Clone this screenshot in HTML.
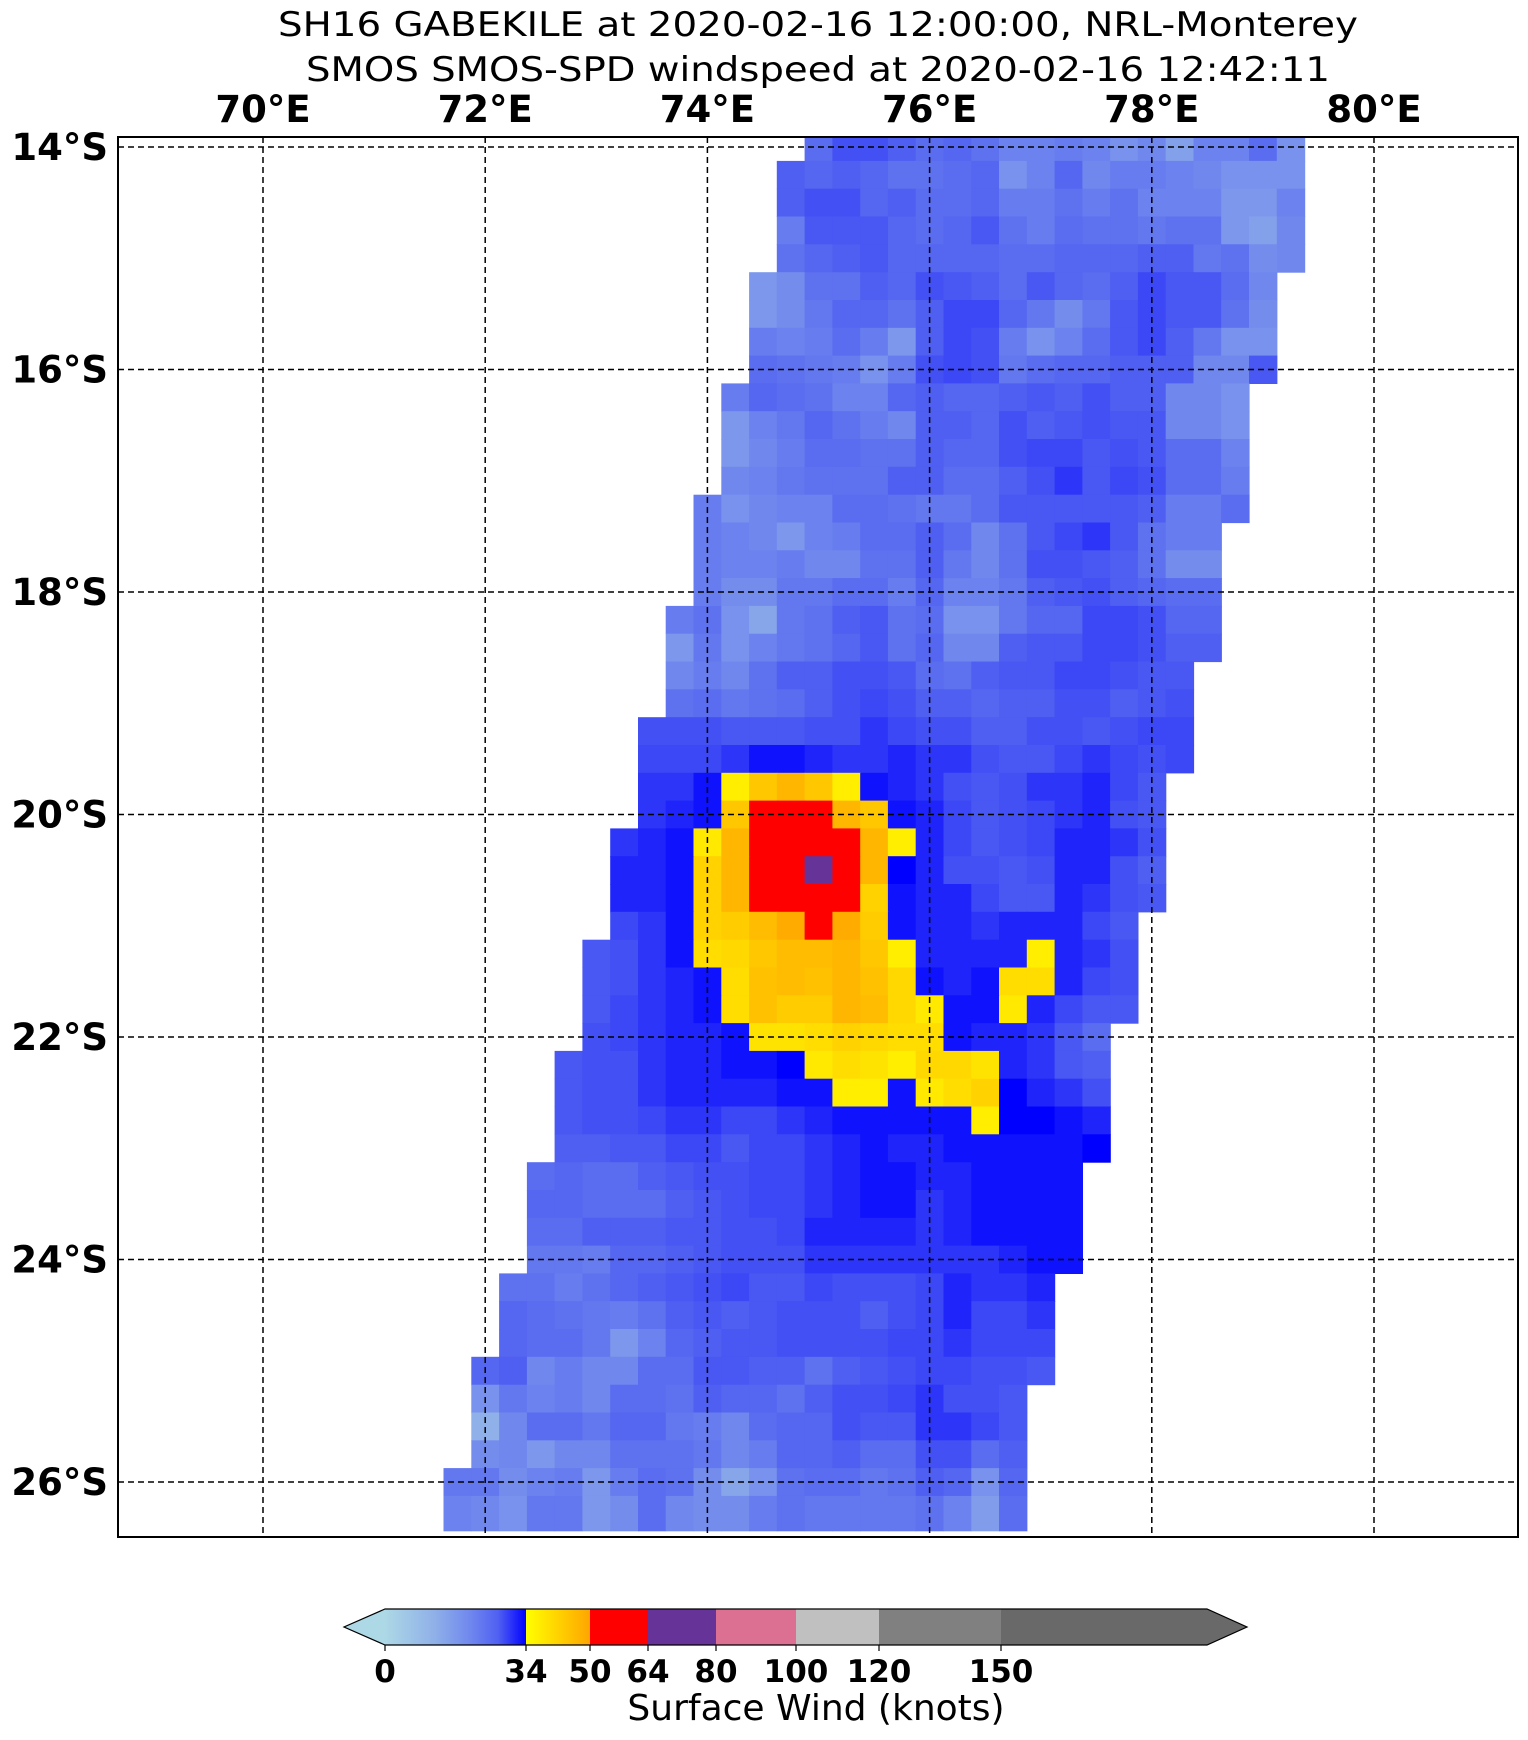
<!DOCTYPE html>
<html><head><meta charset="utf-8"><style>
html,body{margin:0;padding:0;background:#fff;}
svg{display:block;font-family:"DejaVu Sans","Liberation Sans",sans-serif;}
</style></head><body>
<svg id="chart" width="1528" height="1740" viewBox="0 0 1528 1740" xmlns="http://www.w3.org/2000/svg">
<text x="818" y="36" font-size="34" text-anchor="middle" textLength="1080" lengthAdjust="spacingAndGlyphs">SH16 GABEKILE at 2020-02-16 12:00:00, NRL-Monterey</text>
<text x="818" y="81" font-size="34" text-anchor="middle" textLength="1024" lengthAdjust="spacingAndGlyphs">SMOS SMOS-SPD windspeed at 2020-02-16 12:42:11</text>
<g id="cells"></g>
<g id="grid"></g>
<rect x="118" y="137" width="1400" height="1400" fill="none" stroke="#000" stroke-width="2"/>
<g id="labels"></g>
<g id="cbar"></g>
<text x="816" y="1720" font-size="36" text-anchor="middle">Surface Wind (knots)</text>
</svg>
<script>
// grid: column centers lon = 71.75 + 0.25*i, row centers lat(S) = 14.0 + 0.25*r
const lonTicks = [70,72,74,76,78,80];
const latTicks = [14,16,18,20,22,24,26];
const cbarBounds = [0,34,50,64,80,100,120,150];
const rowStartCol = [13,12,12,12,12,11,11,11,11,10,10,10,10,9,9,9,9,8,8,8,8,7,7,7,7,6,6,6,6,5,5,5,5,4,4,4,4,3,3,3,3,2,2,2,1,1,1,1,0,0];
const windRows = [
[25,29,29,27,25,26,24,21,21,22,21,18,20,15,21,21,25,18],
[27,26,27,26,24,24,25,26,18,21,26,20,22,22,21,20,18,18,18],
[27,29,29,26,27,25,25,26,22,22,24,22,24,21,21,21,17,17,21],
[22,28,28,28,26,25,26,28,24,22,25,24,24,23,24,24,17,15,20],
[24,26,27,28,26,26,26,26,25,25,26,26,26,27,27,23,24,19,20],
[17,19,24,24,27,26,29,28,27,25,28,26,25,27,30,28,28,25,20],
[17,19,23,26,26,24,27,30,30,26,23,19,23,28,30,28,28,24,19],
[22,21,22,25,22,17,27,30,29,22,18,21,25,28,30,27,23,18,18],
[25,24,23,22,18,22,29,30,29,23,25,26,26,27,27,27,20,20,28],
[22,26,25,24,21,21,26,27,26,26,27,28,27,29,27,27,20,20,18],
[17,21,23,26,24,22,20,27,27,26,29,27,28,29,28,28,20,20,18],
[17,20,22,25,25,24,24,27,26,26,29,30,30,28,29,28,25,25,21],
[20,21,23,24,24,24,27,27,25,25,27,29,31,28,30,29,25,25,22],
[22,18,20,21,21,25,25,24,23,23,25,28,28,28,28,28,27,22,22,25],
[22,21,20,17,21,22,25,25,27,25,20,24,28,30,31,28,24,22,22],
[22,21,21,22,20,20,24,24,27,23,20,24,29,29,28,27,24,19,19],
[22,19,19,23,23,25,25,22,26,21,21,23,27,28,29,27,26,25,25],
[22,24,18,14,23,24,27,28,24,25,18,18,23,26,26,30,30,29,26,26],
[17,23,18,21,23,24,26,28,24,26,20,20,27,28,28,30,30,29,27,27],
[20,22,20,24,27,27,29,29,28,25,24,27,28,28,30,30,29,28,28],
[24,25,23,24,25,27,29,30,29,27,27,26,27,27,29,29,27,28,29],
[29,29,29,28,28,28,29,29,31,30,29,29,27,27,29,29,28,29,30,30],
[30,30,30,31,33,33,32,31,31,32,31,31,29,28,28,30,31,30,29,30],
[31,31,33,37,44,47,44,37,33,32,31,29,28,29,31,31,32,30,28],
[31,32,33,44,56,56,56,47,44,33,32,30,28,29,30,31,32,29,28],
[31,32,33,38,47,56,56,56,56,47,37,32,30,28,29,30,32,32,31,29],
[32,32,33,42,47,56,56,70,56,47,34,32,29,29,28,29,32,32,29,27],
[32,32,33,42,47,56,56,56,56,42,33,32,32,30,28,28,32,31,29,28],
[30,31,33,42,43,46,49,56,49,43,33,32,32,31,32,32,32,30,28],
[28,29,31,33,40,41,44,46,46,47,44,37,32,32,32,32,37,32,31,29],
[28,29,31,32,33,40,45,46,45,47,45,41,33,32,33,40,40,32,30,29],
[28,30,31,32,33,40,45,43,43,47,46,41,38,33,33,38,32,30,28,28],
[29,30,31,32,32,33,39,39,40,42,41,40,40,33,32,32,31,28,25],
[28,29,29,31,32,32,33,33,34,38,40,39,37,41,41,39,32,31,28,27],
[28,29,29,31,32,32,32,32,33,33,37,37,33,38,40,42,34,32,31,29],
[28,29,29,30,31,31,30,30,31,32,33,33,33,33,33,37,34,34,33,32],
[27,27,28,28,30,30,28,30,30,31,32,33,32,32,33,33,33,33,33,34],
[25,26,25,25,27,28,29,29,30,30,31,32,33,33,32,32,33,33,33,33],
[26,26,25,25,25,27,28,29,30,30,31,32,33,33,31,32,33,33,33,33],
[25,25,27,27,27,28,28,29,29,30,32,32,32,32,31,32,33,33,33,33],
[23,23,22,26,26,27,28,29,29,29,31,31,31,31,31,31,31,32,33,33],
[24,24,22,24,26,27,28,29,30,28,28,30,29,29,29,30,32,31,31,32],
[26,25,24,23,22,24,27,28,27,28,29,29,29,27,29,30,32,30,30,31],
[26,25,25,23,17,21,26,27,28,28,29,29,29,29,30,30,31,30,30,30],
[26,27,20,22,20,20,25,25,28,28,27,27,24,27,28,29,30,30,29,29,28],
[18,23,21,22,20,25,25,24,27,26,26,24,27,29,29,30,31,29,29,28],
[12,20,25,25,23,26,26,23,22,20,25,26,26,29,28,28,31,31,30,28],
[19,20,17,20,20,24,24,24,23,20,22,26,26,27,25,25,29,29,25,27],
[23,23,19,21,22,17,22,25,24,19,14,18,24,25,25,23,24,27,26,18,26],
[21,20,18,23,23,17,19,25,20,19,19,22,24,23,23,23,23,24,21,16,25]
];

const NS = "http://www.w3.org/2000/svg";
const X0 = 118, X1 = 1518, Y0 = 137, Y1 = 1537;
function xOf(lon){ return 263 + (lon - 70) * 111.1; }
function yOf(latS){ return 147 + (latS - 14) * 111.25; }
function lerp(a,b,t){ return a+(b-a)*t; }
const blueStops = [[0,[173,216,230]],[12,[143,176,232]],[20,[112,136,238]],[26,[85,102,240]],[30,[60,72,245]],[34,[0,0,255]]];
function windColor(v){
  if (v >= 150) return "#696969";
  if (v >= 120) return "#808080";
  if (v >= 100) return "#c0c0c0";
  if (v >= 80) return "#db7093";
  if (v >= 64) return "#663399";
  if (v >= 50) return "#ff0000";
  if (v > 34) { const t=(v-34)/16; return "rgb(255,"+Math.round(lerp(255,165,t))+",0)"; }
  for (let k=1;k<blueStops.length;k++){
    if (v <= blueStops[k][0]) {
      const a=blueStops[k-1], b=blueStops[k], t=(v-a[0])/(b[0]-a[0]);
      return "rgb("+[0,1,2].map(j=>Math.round(lerp(a[1][j],b[1][j],t))).join(",")+")";
    }
  }
  return "#0000ff";
}
const cells = document.getElementById("cells");
windRows.forEach(function(row, r){
  const lat = 14 + 0.25*r;
  let yt = Math.max(Y0, yOf(lat-0.125));
  let yb = yOf(lat+0.125);
  if (r === windRows.length-1) yb += 7;
  row.forEach(function(v, k){
    const lon = 71.75 + 0.25*(rowStartCol[r]+k);
    const xl = xOf(lon-0.125), xr = xOf(lon+0.125);
    const rc = document.createElementNS(NS,"rect");
    
    
    rc.setAttribute("x", xl.toFixed(1)); rc.setAttribute("y", yt.toFixed(1));
    rc.setAttribute("width", (xr-xl+0.6).toFixed(1)); rc.setAttribute("height", (yb-yt+0.6).toFixed(1));
    rc.setAttribute("fill", windColor(v));
    cells.appendChild(rc);
  });
});
const grid = document.getElementById("grid");
const labels = document.getElementById("labels");
lonTicks.forEach(function(lon){
  const x = xOf(lon);
  const ln = document.createElementNS(NS,"line");
  
  
  ln.setAttribute("x1",x); ln.setAttribute("x2",x); ln.setAttribute("y1",Y0); ln.setAttribute("y2",Y1);
  ln.setAttribute("stroke","#000"); ln.setAttribute("stroke-width","1.5"); ln.setAttribute("stroke-dasharray","6,4");
  grid.appendChild(ln);
  const t = document.createElementNS(NS,"text");
  
  
  t.setAttribute("x",x); t.setAttribute("y",122); t.setAttribute("font-size","37"); t.setAttribute("font-weight","bold");
  t.setAttribute("text-anchor","middle");
  t.textContent = lon + "°E";
  labels.appendChild(t);
});
latTicks.forEach(function(lat){
  const y = yOf(lat);
  const ln = document.createElementNS(NS,"line");
  
  
  ln.setAttribute("x1",X0); ln.setAttribute("x2",X1); ln.setAttribute("y1",y); ln.setAttribute("y2",y);
  ln.setAttribute("stroke","#000"); ln.setAttribute("stroke-width","1.5"); ln.setAttribute("stroke-dasharray","6,4");
  grid.appendChild(ln);
  const t = document.createElementNS(NS,"text");
  
  
  t.setAttribute("x",108); t.setAttribute("y",y+13); t.setAttribute("font-size","37"); t.setAttribute("font-weight","bold");
  t.setAttribute("text-anchor","end");
  t.textContent = lat + "°S";
  labels.appendChild(t);
});
// colorbar
const cb = document.getElementById("cbar");
const cbX = [385,526,590,648,716,796,879,1001,1207];
const cbTop = 1609, cbBot = 1645;
const defs = document.createElementNS(NS,"defs");
defs.innerHTML = '<linearGradient id="gBlue"><stop offset="0" stop-color="#add8e6"/><stop offset="0.35" stop-color="#8fb0e8"/><stop offset="0.6" stop-color="#7088ee"/><stop offset="0.8" stop-color="#5060f2"/><stop offset="1" stop-color="#0000ff"/></linearGradient><linearGradient id="gYel"><stop offset="0" stop-color="#ffff00"/><stop offset="1" stop-color="#ffa500"/></linearGradient>';
cb.appendChild(defs);
const segFill = ["url(#gBlue)","url(#gYel)","#ff0000","#663399","#db7093","#c0c0c0","#808080","#696969"];
for (let k=0;k<segFill.length;k++){
  const rc = document.createElementNS(NS,"rect");
  
  
  rc.setAttribute("x",cbX[k]); rc.setAttribute("y",cbTop); rc.setAttribute("width",cbX[k+1]-cbX[k]+0.5); rc.setAttribute("height",cbBot-cbTop);
  rc.setAttribute("fill",segFill[k]);
  cb.appendChild(rc);
}
const la = document.createElementNS(NS,"polygon");


la.setAttribute("points","385,1609 344,1627 385,1645"); la.setAttribute("fill","#add8e6");
cb.appendChild(la);
const ra = document.createElementNS(NS,"polygon");


ra.setAttribute("points","1207,1609 1247,1627 1207,1645"); ra.setAttribute("fill","#696969");
cb.appendChild(ra);
const outline = document.createElementNS(NS,"polygon");


outline.setAttribute("points","385,1609 1207,1609 1247,1627 1207,1645 385,1645 344,1627");
outline.setAttribute("fill","none"); outline.setAttribute("stroke","#000"); outline.setAttribute("stroke-width","1.2");
cb.appendChild(outline);
cbarBounds.forEach(function(b, k){
  const x = cbX[k];
  const tk = document.createElementNS(NS,"line");
  
  
  tk.setAttribute("x1",x); tk.setAttribute("x2",x); tk.setAttribute("y1",cbBot); tk.setAttribute("y2",cbBot+6);
  tk.setAttribute("stroke","#000"); tk.setAttribute("stroke-width","1.2");
  cb.appendChild(tk);
  const t = document.createElementNS(NS,"text");
  
  
  t.setAttribute("x",x); t.setAttribute("y",1682); t.setAttribute("font-size","31"); t.setAttribute("font-weight","bold");
  t.setAttribute("text-anchor","middle");
  t.textContent = b;
  cb.appendChild(t);
});
</script>
</body></html>
